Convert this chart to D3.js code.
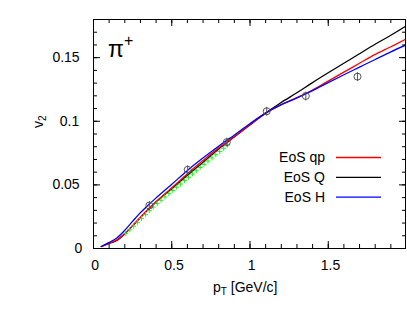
<!DOCTYPE html>
<html>
<head>
<meta charset="utf-8">
<script src="https://cdnjs.cloudflare.com/ajax/libs/d3/7.8.5/d3.min.js"></script>
<style>
    body { margin: 0; background: #fff; }
    svg text { font-family: "Liberation Sans", Arial, sans-serif; }
</style>
</head>
<body>
<svg class="chart"></svg>
<script>
'use strict';

var CHART_WIDTH = 407;
var CHART_HEIGHT = 317;
var CHART_MARGIN = { top: 19, right: 1, bottom: 69, left: 93 };

// hydro curves, pT [GeV/c]
var curvePt = [0.05, 0.1, 0.15, 0.2, 0.25, 0.3, 0.35, 0.4, 0.5, 0.6, 0.7, 0.8, 0.85, 0.9, 1.0, 1.1, 1.2, 1.3, 1.4, 1.5, 1.6, 1.7, 1.8, 1.9, 2.0];
var v2Qp = [0.001, 0.0037, 0.0062, 0.011, 0.0172, 0.0238, 0.0302, 0.0362, 0.0469, 0.0580, 0.0685, 0.0785, 0.0828, 0.0872, 0.0966, 0.1058, 0.1125, 0.118, 0.124, 0.131, 0.138, 0.145, 0.152, 0.158, 0.1643];
var v2Q = [0.001, 0.0035, 0.0057, 0.0107, 0.017, 0.0235, 0.0298, 0.0358, 0.0462, 0.0567, 0.067, 0.0775, 0.0822, 0.087, 0.0965, 0.1058, 0.1142, 0.1218, 0.1298, 0.1375, 0.145, 0.1525, 0.160, 0.167, 0.1745];
var v2H = [0.001, 0.0042, 0.0077, 0.0135, 0.0205, 0.0274, 0.0334, 0.039, 0.0497, 0.0606, 0.0705, 0.0798, 0.0842, 0.0885, 0.0975, 0.1058, 0.1125, 0.1178, 0.1235, 0.1298, 0.136, 0.142, 0.148, 0.154, 0.1596];

var seriesNames = ["EoS qp", "EoS Q", "EoS H"];
var seriesColors = ["#ff0000", "#000000", "#0000ff"];

// open circles with error bars
var circlePt = [0.36, 0.605, 0.855, 1.11, 1.36, 1.69];
var circleV2 = [0.0334, 0.0615, 0.0832, 0.1075, 0.1195, 0.1347];
var circleErr = [0.0035, 0.0035, 0.0035, 0.0035, 0.0035, 0.0035];

// green crosses
var greenPt = [0.21, 0.235, 0.26, 0.285, 0.31, 0.335, 0.36, 0.385, 0.41, 0.435, 0.46, 0.485, 0.51, 0.535, 0.56, 0.585, 0.61, 0.635, 0.66, 0.685, 0.71, 0.735, 0.76, 0.785, 0.81, 0.835, 0.86];
var greenV2 = [0.0115, 0.0142, 0.0172, 0.0202, 0.0233, 0.0264, 0.0294, 0.0322, 0.0349, 0.0375, 0.0401, 0.0427, 0.0452, 0.0478, 0.0503, 0.0530, 0.0556, 0.0582, 0.0607, 0.0633, 0.0658, 0.0683, 0.0708, 0.0733, 0.0758, 0.0784, 0.0810];

var xTicks = [0, 0.5, 1, 1.5];
var xTickLabels = ["0", "0.5", "1", "1.5"];
var yTicks = [0, 0.05, 0.1, 0.15];
var yTickLabels = ["0", "0.05", "0.1", "0.15"];

var chartDimensions = produceChartDimensions(CHART_WIDTH, CHART_HEIGHT, CHART_MARGIN);

var xScale = d3.scaleLinear()
    .domain([0, 2])
    .range([0, chartDimensions.width]);

var yScale = d3.scaleLinear()
    .domain([0, 0.18])
    .range([chartDimensions.height, 0]);

var chart = d3.select('.chart')
    .attr("width", CHART_WIDTH)
    .attr("height", CHART_HEIGHT);

var inner = chart.append("g")
    .attr("transform", "translate(" + CHART_MARGIN.left + "," + CHART_MARGIN.top + ")");

renderCurves(inner, [v2Qp, v2Q, v2H]);
renderGreen(inner);
renderCircles(inner);
renderFrame(inner);
renderLabels(chart);
renderLegend(chart);

/**
 * Width and height of the plot area
 */
function produceChartDimensions(width, height, margin) {
    return {
        width: width - margin.left - margin.right,
        height: height - margin.top - margin.bottom
    };
}

/**
 * Draw the three hydro curves
 */
function renderCurves(g, seriesList) {
    g.append("clipPath").attr("id", "plotClip")
        .append("rect")
        .attr("width", chartDimensions.width)
        .attr("height", chartDimensions.height);

    var line = d3.line()
        .x(function (d) { return xScale(d[0]); })
        .y(function (d) { return yScale(d[1]); })
        .curve(d3.curveCatmullRom.alpha(0.5));

    // draw black first, then red, then blue on top
    [1, 0, 2].forEach(function (i) {
        var pts = curvePt.map(function (p, j) { return [p, seriesList[i][j]]; });
        g.append("path")
            .attr("clip-path", "url(#plotClip)")
            .attr("d", line(pts))
            .attr("fill", "none")
            .attr("stroke", seriesColors[i])
            .attr("stroke-width", 1.3);
    });
}

/**
 * Draw the green cross markers
 */
function renderGreen(g) {
    var s = 2.5;
    g.selectAll("path.green")
        .data(greenPt)
        .enter()
        .append("path")
        .attr("class", "green")
        .attr("d", function (d, i) {
            var x = xScale(d), y = yScale(greenV2[i]);
            return "M" + (x - s) + "," + y + "H" + (x + s) +
                "M" + x + "," + (y - s) + "V" + (y + s);
        })
        .attr("stroke", "#22ee22")
        .attr("stroke-width", 1)
        .attr("fill", "none");
}

/**
 * Draw the open circles with error bars
 */
function renderCircles(g) {
    var pts = g.selectAll("g.pt")
        .data(circlePt)
        .enter()
        .append("g")
        .attr("class", "pt");

    pts.append("line")
        .attr("x1", function (d) { return xScale(d); })
        .attr("x2", function (d) { return xScale(d); })
        .attr("y1", function (d, i) { return yScale(circleV2[i] - circleErr[i]); })
        .attr("y2", function (d, i) { return yScale(circleV2[i] + circleErr[i]); })
        .attr("stroke", "#555")
        .attr("stroke-width", 1);

    pts.append("circle")
        .attr("cx", function (d) { return xScale(d); })
        .attr("cy", function (d, i) { return yScale(circleV2[i]); })
        .attr("r", 3.5)
        .attr("fill", "none")
        .attr("stroke", "#555")
        .attr("stroke-width", 1);
}

/**
 * Draw the frame with inward ticks on all four sides
 */
function renderFrame(g) {
    var w = chartDimensions.width, h = chartDimensions.height;
    var xMinor = d3.range(0, 20).map(function (i) { return i / 10; });
    var yMinor = d3.range(0, 18).map(function (i) { return i / 100; });

    g.append("g")
        .attr("transform", "translate(0," + h + ")")
        .call(d3.axisBottom(xScale).tickValues(xMinor).tickSize(-4).tickFormat(""));
    g.append("g")
        .call(d3.axisTop(xScale).tickValues(xMinor).tickSize(-4).tickFormat(""));
    g.append("g")
        .call(d3.axisLeft(yScale).tickValues(yMinor).tickSize(-4).tickFormat(""));
    g.append("g")
        .attr("transform", "translate(" + w + ",0)")
        .call(d3.axisRight(yScale).tickValues(yMinor).tickSize(-4).tickFormat(""));

    // major ticks
    g.append("g")
        .attr("transform", "translate(0," + h + ")")
        .call(d3.axisBottom(xScale).tickValues(xTicks).tickSize(-7).tickFormat(""));
    g.append("g")
        .call(d3.axisTop(xScale).tickValues(xTicks).tickSize(-7).tickFormat(""));
    g.append("g")
        .call(d3.axisLeft(yScale).tickValues(yTicks).tickSize(-7).tickFormat(""));
    g.append("g")
        .attr("transform", "translate(" + w + ",0)")
        .call(d3.axisRight(yScale).tickValues(yTicks).tickSize(-7).tickFormat(""));

    g.selectAll(".domain").remove();
    g.selectAll(".tick line").attr("stroke", "#000");

    g.append("rect")
        .attr("x", 0.5).attr("y", 0.5)
        .attr("width", w - 1).attr("height", h)
        .attr("fill", "none")
        .attr("stroke", "#000")
        .attr("stroke-width", 1);

    // tick labels, start-anchored like the original
    g.selectAll("text.xl")
        .data(xTicks)
        .enter()
        .append("text")
        .attr("class", "xl")
        .attr("x", function (d, i) { return xScale(d) - xTickLabels[i].length * 2.6 + 0.8; })
        .attr("y", h + 22)
        .attr("font-size", 14)
        .text(function (d, i) { return xTickLabels[i]; });

    g.selectAll("text.yl")
        .data(yTicks)
        .enter()
        .append("text")
        .attr("class", "yl")
        .attr("x", function (d, i) { return -11 - yTickLabels[i].length * 7.4; })
        .attr("y", function (d) { return yScale(d) + 5; })
        .attr("font-size", 14)
        .text(function (d, i) { return yTickLabels[i]; });
}

/**
 * Axis titles and particle label
 */
function renderLabels(svg) {
    var xl = svg.append("text")
        .attr("x", 213)
        .attr("y", 292)
        .attr("font-size", 14);
    xl.append("tspan").text("p");
    xl.append("tspan").attr("font-size", 10).attr("dy", 3).text("T");
    xl.append("tspan").attr("dy", -3).text(" [GeV/c]");

    var yl = svg.append("text")
        .attr("transform", "translate(43,128) rotate(-90)")
        .attr("font-size", 14);
    yl.append("tspan").text("v");
    yl.append("tspan").attr("font-size", 10).attr("dy", 3).text("2");

    var pl = svg.append("text")
        .attr("x", 108)
        .attr("y", 56.5)
        .attr("font-size", 23);
    pl.append("tspan").text("π");
    pl.append("tspan").attr("font-size", 16).attr("dy", -11).text("+");
}

/**
 * Legend in the lower right of the plot
 */
function renderLegend(svg) {
    var items = svg.selectAll("g.legend")
        .data(seriesNames)
        .enter()
        .append("g")
        .attr("class", "legend")
        .attr("transform", function (d, i) { return "translate(0," + (162 + i * 19.8) + ")"; });

    items.append("text")
        .attr("x", 325)
        .attr("text-anchor", "end")
        .attr("font-size", 14)
        .text(function (d) { return d; });

    items.append("line")
        .attr("x1", 336).attr("x2", 381)
        .attr("y1", -4.5).attr("y2", -4.5)
        .attr("stroke", function (d, i) { return seriesColors[i]; })
        .attr("stroke-width", 1.3);
}
</script>
</body>
</html>
